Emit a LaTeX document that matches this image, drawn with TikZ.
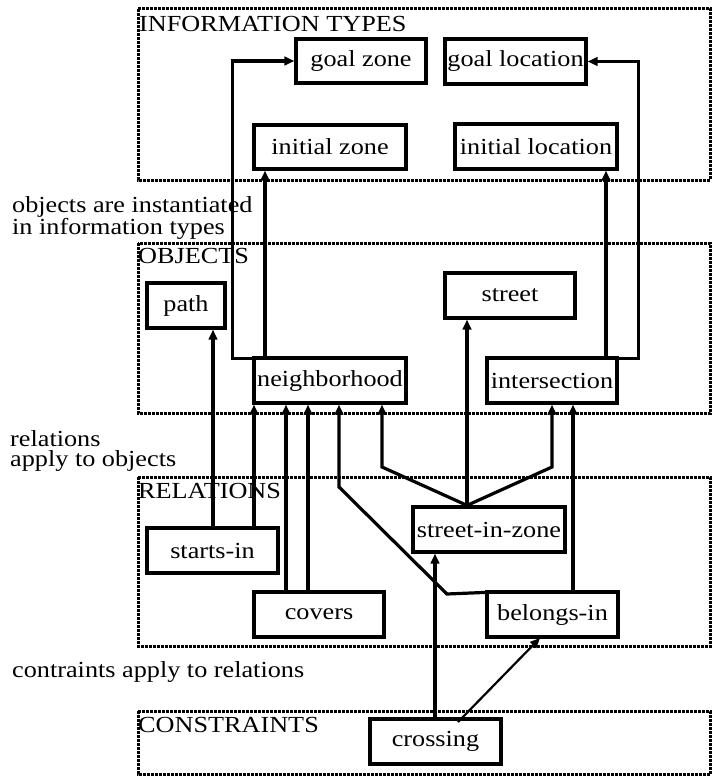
\documentclass[tikz,border=0pt]{standalone}
\usepackage{fontspec}
\setmainfont[FakeStretch=1.14]{Liberation Serif}
\usetikzlibrary{arrows.meta,calc}
\begin{document}
\begin{tikzpicture}[x=1pt,y=-1pt,
  box/.style={draw,line width=3.2pt,inner sep=0pt,minimum height=45pt,font=\fontsize{23}{26}\selectfont},
  region/.style={draw,line width=3pt,dash pattern=on 3pt off 1pt},
  lbl/.style={anchor=base west,inner sep=0pt,font=\fontsize{23}{26}\selectfont},
  note/.style={anchor=north west,inner sep=0pt,align=left,font=\fontsize{23}{20.5}\selectfont},
  arr/.style={line width=3.2pt,-{Triangle[length=10pt,width=8.5pt]}},
  thinarr/.style={line width=2.2pt,-{Triangle[length=10pt,width=8.5pt]}}]
\useasboundingbox (0,0) rectangle (712,778);
\fill[white] (0,0) rectangle (712,778);
% regions
\draw[region] (138,9) rectangle (710.5,180);
\draw[region] (138,243) rectangle (710.5,413);
\draw[region] (138,477) rectangle (710.5,646);
\draw[region] (138,711) rectangle (710.5,774);
\node[lbl] (tInfo) at (139,32) {INFORMATION TYPES};
\node[lbl] (tObj) at (138,263) {OBJECTS};
\node[lbl] (tRel) at (138,498) {RELATIONS};
\node[lbl] (tCon) at (138,732) {CONSTRAINTS};
% side notes
\node[note] (n1) at (12,196) {objects are instantiated\\in information types};
\node[note] (n2) at (10,430) {relations\\apply to objects};
\node[lbl] (n3) at (12,677) {contraints apply to relations};
% boxes
\node[box,minimum width=130pt,minimum height=44pt] (goalzone) at (361,61) {goal zone};
\node[box,minimum width=141pt] (goalloc) at (515.5,61.5) {goal location};
\node[box,minimum width=152pt,minimum height=44pt] (initzone) at (330,147) {initial zone};
\node[box,minimum width=162pt] (initloc) at (536,146.5) {initial location};
\node[box,minimum width=78pt] (path) at (186,305.5) {path};
\node[box,minimum width=130pt] (street) at (510,295.5) {street};
\node[box,minimum width=152pt] (neigh) at (330,380.5) {neighborhood};
\node[box,minimum width=130pt] (inter) at (552,380.5) {intersection};
\node[box,minimum width=131pt] (starts) at (212.5,550.5) {starts-in};
\node[box,minimum width=152pt] (siz) at (489,529.5) {street-in-zone};
\node[box,minimum width=130pt] (covers) at (319,614.5) {covers};
\node[box,minimum width=131pt] (belongs) at (552.5,614.5) {belongs-in};
\node[box,minimum width=131pt] (crossing) at (435.5,741.5) {crossing};
% x positions
\coordinate (x213) at (213,0);
\coordinate (x254) at (254,0);
\coordinate (x265) at (265,0);
\coordinate (x286) at (286,0);
\coordinate (x308) at (308,0);
\coordinate (x339) at (339,0);
\coordinate (x382) at (382,0);
\coordinate (x435) at (435,0);
\coordinate (x467) at (467,0);
\coordinate (x552) at (552,0);
\coordinate (x573) at (573,0);
\coordinate (x606) at (606,0);
\coordinate (sizTop) at (siz.north -| x467);
\coordinate (bendL) at (382,467);
\coordinate (bendR) at (552,467);
\coordinate (bendB1) at (447,594);
\coordinate (bendB2) at (339,487);
\coordinate (crossOut) at (458,722);
\coordinate (belongsIn) at (540,638);
% connectors
\draw[arr] ($(neigh.north west)+(0,2)$) -- ++(-20,0) |- (goalzone.west);
\draw[arr] (neigh.north -| x265) -- (initzone.south -| x265);
\draw[arr] (inter.north -| x606) -- (initloc.south -| x606);
\draw[arr] ($(inter.north east)+(0,2)$) -- ++(20,0) |- (goalloc.east);
\draw[arr] (starts.north -| x213) -- (path.south -| x213);
\draw[arr] (starts.north -| x254) -- (neigh.south -| x254);
\draw[arr] (covers.north -| x286) -- (neigh.south -| x286);
\draw[arr] (covers.north -| x308) -- (neigh.south -| x308);
\draw[arr] ($(belongs.north west)+(0,2)$) -- (bendB1) -- (bendB2) -- (neigh.south -| x339);
\draw[arr] (sizTop) -- (bendL) -- (neigh.south -| x382);
\draw[arr] (sizTop) -- (street.south -| x467);
\draw[arr] (sizTop) -- (bendR) -- (inter.south -| x552);
\draw[arr] (belongs.north -| x573) -- (inter.south -| x573);
\draw[arr] (crossing.north -| x435) -- (siz.south -| x435);
\draw[thinarr] (crossOut) -- (belongsIn);
\end{tikzpicture}
\end{document}
